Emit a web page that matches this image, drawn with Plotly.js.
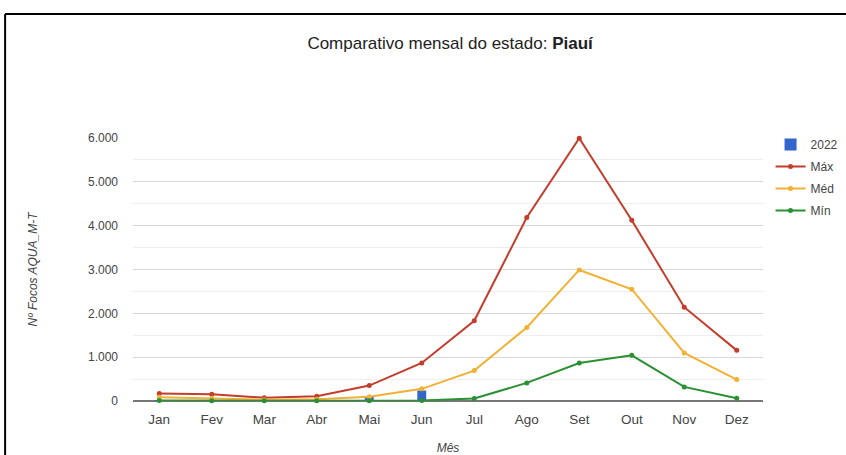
<!DOCTYPE html>
<html>
<head>
<meta charset="utf-8">
<script src="https://cdn.plot.ly/plotly-3.0.1.min.js"></script>
<style>
html,body{margin:0;padding:0;background:#fff;overflow:hidden;}
#chart{width:846px;height:455px;}
</style>
</head>
<body>
<div id="chart"></div>
<script>
const months = ["Jan","Fev","Mar","Abr","Mai","Jun","Jul","Ago","Set","Out","Nov","Dez"];
const y2022 = [20, 10, 5, 8, 110, 240, null, null, null, null, null, null];
const maxV = [170, 155, 75, 110, 352, 868, 1830, 4186, 5995, 4125, 2141, 1155];
const medV = [85, 60, 30, 40, 95, 277, 693, 1677, 2990, 2550, 1095, 489];
const minV = [10, 5, 3, 5, 8, 12, 57, 413, 868, 1041, 322, 64];

const lineStyle = (c) => ({color: c, width: 2});
const data = [
  {type:'bar', name:'2022', x:months, y:y2022, width:0.17,
   marker:{color:'#3366cc'}, legendgroup:'a'},
  {type:'scatter', mode:'lines+markers', name:'Máx', x:months, y:maxV,
   line:lineStyle('#c43c2c'), marker:{size:5,color:'#c43c2c'}, cliponaxis:false, legendgroup:'b'},
  {type:'scatter', mode:'lines+markers', name:'Méd', x:months, y:medV,
   line:lineStyle('#f2b134'), marker:{size:5,color:'#f2b134'}, cliponaxis:false, legendgroup:'c'},
  {type:'scatter', mode:'lines+markers', name:'Mín', x:months, y:minV,
   line:lineStyle('#2a9032'), marker:{size:5,color:'#2a9032'}, cliponaxis:false, legendgroup:'d'}
];

const layout = {
  width:846, height:455,
  margin:{l:133, r:83, t:137.5, b:53.5, autoexpand:false},
  paper_bgcolor:'#fff', plot_bgcolor:'#fff',
  separators:',.',
  font:{family:'"Liberation Sans", Arial, sans-serif', size:12, color:'#444'},
  title:{text:'Comparativo mensal do estado: <b>Piauí</b>', x:0.532, xanchor:'center', y:0.906, yanchor:'middle',
         font:{size:17, color:'#222'}},
  showlegend:true,
  legend:{x:1.012, xanchor:'left', y:1.03, yanchor:'top', traceorder:'grouped', tracegroupgap:3,
          font:{size:12, color:'#444'}, bgcolor:'rgba(0,0,0,0)'},
  xaxis:{type:'category', range:[-0.5, 11.5], autorange:false, showgrid:false, zeroline:false, showline:false, ticks:'',
         ticklabelstandoff:8, tickfont:{size:13.5,color:'#444'},
         title:{text:'<i>Mês</i>', font:{size:12,color:'#444'}, standoff:22}},
  yaxis:{range:[0,6000], dtick:1000, tick0:0, separatethousands:true,
         showgrid:true, gridcolor:'#d9d9d9', gridwidth:1,
         minor:{dtick:500, showgrid:true, gridcolor:'#eeeeee', gridwidth:1},
         zeroline:true, zerolinecolor:'#777', zerolinewidth:1.5, showline:false, ticks:'',
         ticklabelstandoff:14, tickfont:{size:12,color:'#444'},
         title:{text:'<i>Nº Focos AQUA_M-T</i>', font:{size:12,color:'#444'}, standoff:47}},
  shapes:[
    {type:'line', xref:'paper', yref:'paper', x0:-0.203, x1:1.2, y0:1.4716, y1:1.4716, line:{color:'#000', width:2}},
    {type:'line', xref:'paper', yref:'paper', x0:-0.203, x1:-0.203, y0:1.4716, y1:-0.3, line:{color:'#000', width:2}}
  ],
  barmode:'overlay'
};
Plotly.newPlot('chart', data, layout, {displayModeBar:false, staticPlot:true});
</script>
</body>
</html>
